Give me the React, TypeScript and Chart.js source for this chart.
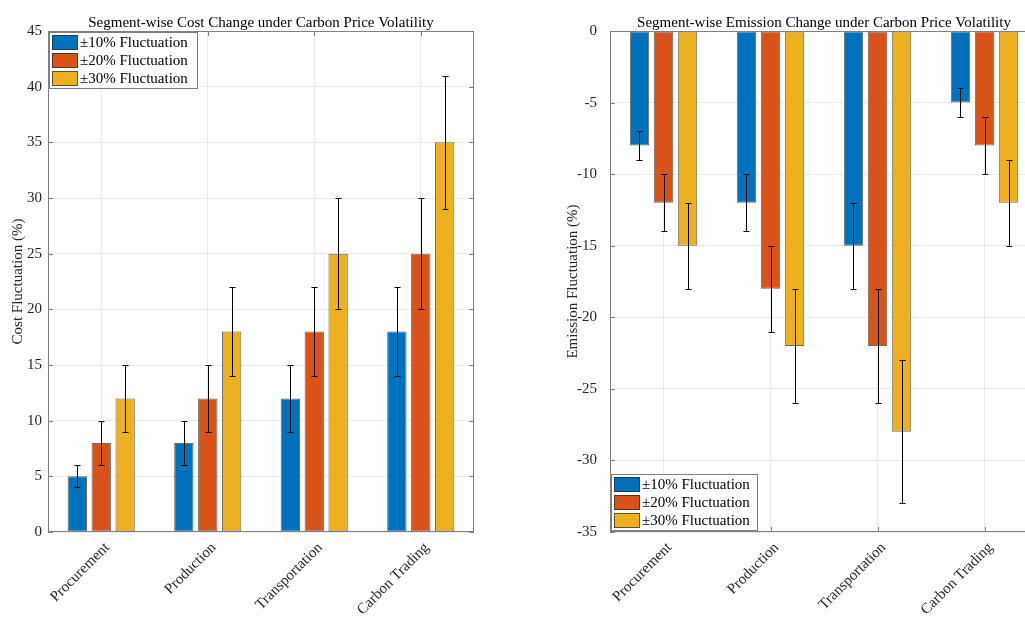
import React, { useEffect, useRef } from "react";
import { Chart, registerables } from "chart.js";
Chart.register(...registerables);

const categories = ["Procurement", "Production", "Transportation", "Carbon Trading"];
const seriesLabels = ["±10% Fluctuation", "±20% Fluctuation", "±30% Fluctuation"];
const seriesColors = ["#0072BD", "#D95319", "#EDB120"];

const costP10 = [5, 8, 12, 18];
const costP20 = [8, 12, 18, 25];
const costP30 = [12, 18, 25, 35];
const costErr10 = [1, 2, 3, 4];
const costErr20 = [2, 3, 4, 5];
const costErr30 = [3, 4, 5, 6];

const emisP10 = [-8, -12, -15, -5];
const emisP20 = [-12, -18, -22, -8];
const emisP30 = [-15, -22, -28, -12];
const emisErr10 = [1, 2, 3, 1];
const emisErr20 = [2, 3, 4, 2];
const emisErr30 = [3, 4, 5, 3];

const costTitle = "Segment-wise Cost Change under Carbon Price Volatility";
const emisTitle = "Segment-wise Emission Change under Carbon Price Volatility";
const costYLabel = "Cost Fluctuation (%)";
const emisYLabel = "Emission Fluctuation (%)";

const FONT = "'Liberation Serif', 'Times New Roman', serif";
const TEXT = "#262626";
const BOX = "#808080";
const GRID = "#ebebeb";

const decorPlugin = {
  id: "decor",
  afterDatasetsDraw(chart: any, _args: any, opts: any) {
    const ctx = chart.ctx;
    const { left, right, top, bottom } = chart.chartArea;
    const xs = chart.scales.x;
    const ys = chart.scales.y;
    ctx.save();
    // error bars
    ctx.strokeStyle = "#000";
    ctx.lineWidth = 1;
    chart.data.datasets.forEach((ds: any, di: number) => {
      const meta = chart.getDatasetMeta(di);
      const errs = opts.errors[di];
      meta.data.forEach((el: any, i: number) => {
        const v = ds.data[i];
        const e = errs[i];
        const x = Math.round(el.x) + 0.5;
        const y1 = Math.round(ys.getPixelForValue(v - e)) + 0.5;
        const y2 = Math.round(ys.getPixelForValue(v + e)) + 0.5;
        ctx.beginPath();
        ctx.moveTo(x, y1);
        ctx.lineTo(x, y2);
        ctx.moveTo(x - 3, y1);
        ctx.lineTo(x + 3, y1);
        ctx.moveTo(x - 3, y2);
        ctx.lineTo(x + 3, y2);
        ctx.stroke();
      });
    });
    // box
    ctx.strokeStyle = BOX;
    ctx.lineWidth = 1;
    ctx.strokeRect(Math.round(left) + 0.5, Math.round(top) + 0.5, Math.round(right - left) - 1, Math.round(bottom - top) - 1);
    // inner ticks
    ctx.beginPath();
    ys.ticks.forEach((t: any) => {
      const y = Math.round(ys.getPixelForValue(t.value)) + 0.5;
      ctx.moveTo(left, y);
      ctx.lineTo(left + 5, y);
      ctx.moveTo(right, y);
      ctx.lineTo(right - 5, y);
    });
    categories.forEach((_c, i) => {
      const x = Math.round(xs.getPixelForValue(i)) + 0.5;
      ctx.moveTo(x, bottom);
      ctx.lineTo(x, bottom - 5);
      ctx.moveTo(x, top);
      ctx.lineTo(x, top + 5);
    });
    ctx.stroke();
    // legend
    const bw = opts.legendW;
    const bh = 57;
    const bx = Math.round(left) + 1;
    const by = opts.legendPos === "tl" ? Math.round(top) + 1 : Math.round(bottom) - bh - 1;
    ctx.fillStyle = "#fff";
    ctx.fillRect(bx, by, bw, bh);
    ctx.strokeStyle = BOX;
    ctx.strokeRect(bx + 0.5, by + 0.5, bw - 1, bh - 1);
    ctx.font = `15px ${FONT}`;
    ctx.textAlign = "left";
    ctx.textBaseline = "middle";
    seriesLabels.forEach((lab, i) => {
      const sy = by + 3 + i * 18;
      ctx.fillStyle = seriesColors[i];
      ctx.fillRect(bx + 3, sy, 26, 15);
      ctx.strokeStyle = "rgba(40,40,40,0.7)";
      ctx.strokeRect(bx + 3.5, sy + 0.5, 25, 14);
      ctx.fillStyle = "#000";
      ctx.fillText(lab, bx + 31, sy + 8);
    });
    // title
    ctx.fillStyle = "#000";
    ctx.font = `15px ${FONT}`;
    ctx.textAlign = "center";
    ctx.textBaseline = "alphabetic";
    ctx.fillText(opts.title, (left + right) / 2, top - 4);
    ctx.restore();
  },
};

function makeConfig(
  values: number[][],
  errors: number[][],
  min: number,
  max: number,
  title: string,
  yLabel: string,
  yWidth: number,
  tickPad: number,
  titlePad: number,
  padRight: number,
  legendPos: string,
  legendW: number
): any {
  return {
    type: "bar",
    data: {
      labels: categories,
      datasets: values.map((v, i) => ({
        label: seriesLabels[i],
        data: v,
        backgroundColor: seriesColors[i],
        borderColor: "rgba(40,40,40,0.7)",
        borderWidth: 1,
        borderSkipped: false,
        categoryPercentage: 0.673,
        barPercentage: 0.81,
      })),
    },
    options: {
      responsive: false,
      animation: false,
      layout: { padding: { top: 31, right: padRight, bottom: 0, left: 0 } },
      plugins: {
        legend: { display: false },
        tooltip: { enabled: false },
        title: { display: false },
        decor: { errors, title, legendPos, legendW },
      },
      scales: {
        x: {
          grid: { offset: false, color: GRID, drawTicks: false },
          border: { display: false },
          ticks: {
            font: { family: FONT, size: 15 },
            color: TEXT,
            minRotation: 45,
            maxRotation: 45,
            autoSkip: false,
            padding: 7,
            labelOffset: 6,
          },
          afterFit: (s: any) => {
            s.height = 85;
          },
        },
        y: {
          min,
          max,
          ticks: { stepSize: 5, font: { family: FONT, size: 15 }, color: TEXT, padding: tickPad },
          grid: { color: GRID, drawTicks: false },
          border: { display: false },
          title: {
            display: true,
            text: yLabel,
            font: { family: FONT, size: 15 },
            color: TEXT,
            padding: { top: titlePad, bottom: 0 },
          },
          afterFit: (s: any) => {
            s.width = yWidth;
          },
        },
      },
    },
    plugins: [decorPlugin],
  };
}

function ChartCanvas({ config, width, height, left }: any) {
  const ref = useRef<HTMLCanvasElement>(null);
  useEffect(() => {
    if (!ref.current) return;
    const c = new Chart(ref.current, config);
    return () => c.destroy();
  }, []);
  return (
    <canvas
      ref={ref}
      width={width}
      height={height}
      style={{ position: "absolute", left, top: 0, width, height, display: "block" }}
    />
  );
}

export default function App() {
  const costCfg = makeConfig(
    [costP10, costP20, costP30],
    [costErr10, costErr20, costErr30],
    0,
    45,
    costTitle,
    costYLabel,
    48,
    6,
    9,
    16,
    "tl",
    149
  );
  const emisCfg = makeConfig(
    [emisP10, emisP20, emisP30],
    [emisErr10, emisErr20, emisErr30],
    -35,
    0,
    emisTitle,
    emisYLabel,
    70,
    13,
    24,
    10,
    "bl",
    147
  );
  return (
    <div
      style={{
        position: "fixed",
        left: 0,
        top: 0,
        width: 1025,
        height: 617,
        overflow: "hidden",
        background: "#fff",
      }}
    >
      <ChartCanvas config={costCfg} width={490} height={617} left={0} />
      <ChartCanvas config={emisCfg} width={508} height={617} left={540} />
    </div>
  );
}
